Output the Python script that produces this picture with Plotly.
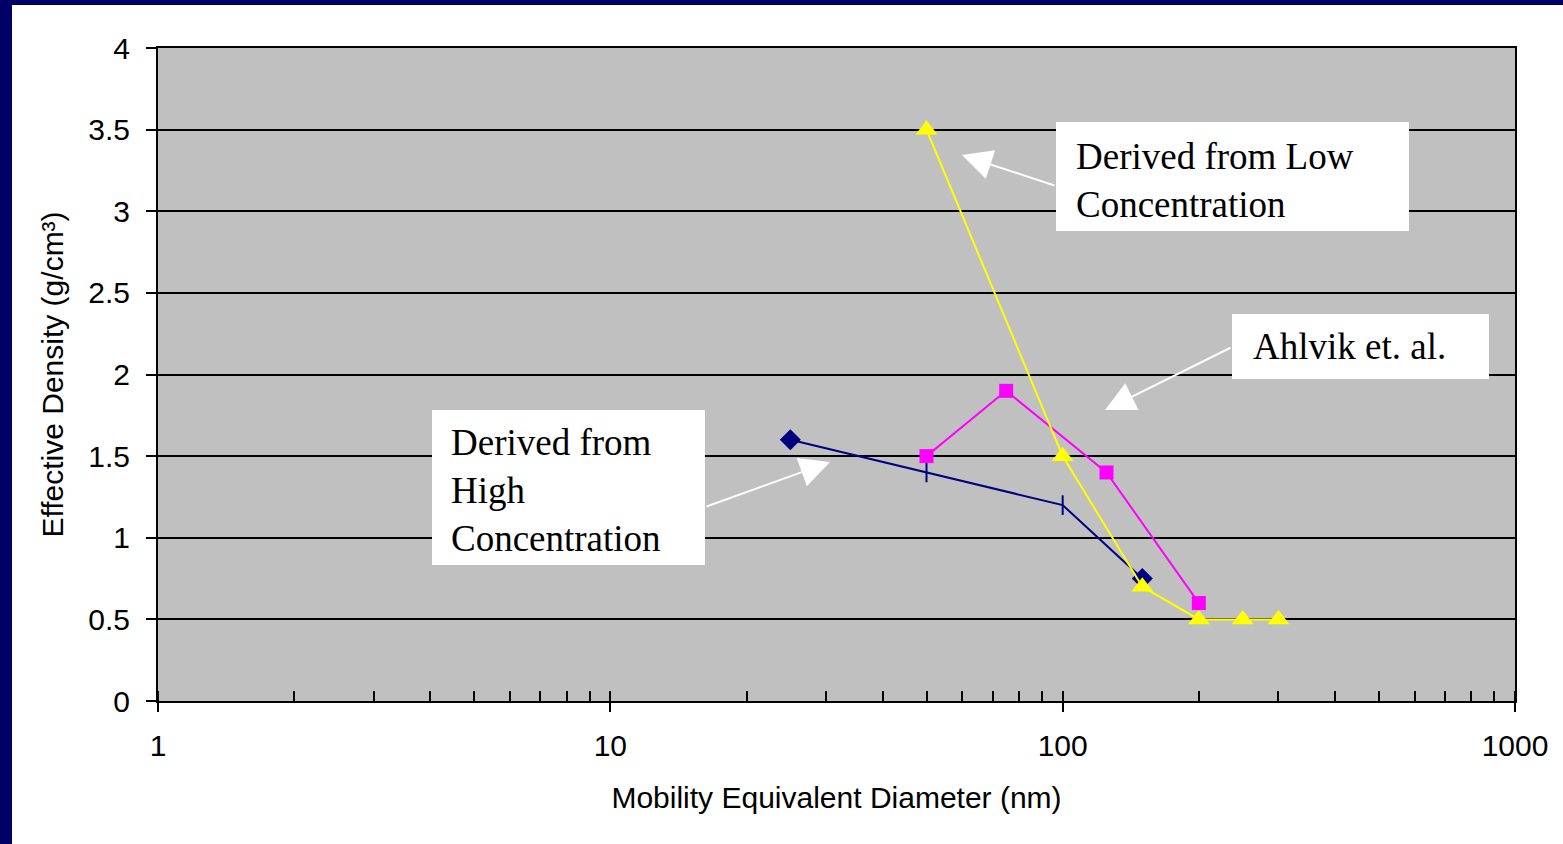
import math
import plotly.graph_objects as go

# ---- data ----
high_x = [25, 50, 100, 150]
high_y = [1.6, 1.4, 1.2, 0.75]
ahlvik_x = [50, 75, 125, 200]
ahlvik_y = [1.5, 1.9, 1.4, 0.6]
low_x = [50, 100, 150, 200, 250, 300]
low_y = [3.5, 1.5, 0.7, 0.5, 0.5, 0.5]
x_ticks = [1, 10, 100, 1000]
x_ticktext = ["1", "10", "100", "1000"]

W, H = 1563, 844
L, R, T, B = 158, 1515, 48, 701

def pxx(p):
    return (p - L) / (R - L)

def pxy(p):
    return (B - p) / (B - T)

fig = go.Figure()
fig.add_trace(go.Scatter(
    x=high_x, y=high_y, mode="lines+markers", name="High",
    line=dict(color="#000080", width=2),
    marker=dict(symbol=["diamond", "line-ns", "line-ns", "diamond"], size=[14, 14, 14, 14],
                color="#000080", opacity=1, line=dict(color="#000080", width=2)),
))
fig.add_trace(go.Scatter(
    x=ahlvik_x, y=ahlvik_y, mode="lines+markers", name="Ahlvik",
    line=dict(color="#FF00FF", width=2),
    marker=dict(symbol="square", size=14, color="#FF00FF"),
))
fig.add_trace(go.Scatter(
    x=low_x, y=low_y, mode="lines+markers", name="Low",
    line=dict(color="#FFFF00", width=2),
    marker=dict(symbol="triangle-up", size=19, color="#FFFF00"),
))

axis_font = dict(family="Liberation Sans, Arial", size=30, color="black")
fig.update_layout(
    width=W, height=H,
    margin=dict(l=L, r=W - R, t=T, b=H - B),
    paper_bgcolor="white", plot_bgcolor="#C0C0C0",
    showlegend=False,
    xaxis=dict(type="log", range=[0, 3], tickvals=x_ticks, ticktext=x_ticktext,
               ticks="outside", ticklen=9, tickwidth=2, tickcolor="black",
               showline=True, linecolor="black", linewidth=2, mirror=True,
               showgrid=False, zeroline=False, tickfont=axis_font, ticklabelstandoff=8,
               minor=dict(ticks="inside", ticklen=10, tickwidth=2, tickcolor="black",
                          dtick="D1", showgrid=False),
               title=dict(text="Mobility Equivalent Diameter (nm)", font=axis_font, standoff=26)),
    xaxis2=dict(type="log", range=[0, 3], overlaying="x", anchor="y", side="bottom",
                tickvals=x_ticks, ticks="inside", ticklen=10, tickwidth=2, tickcolor="black",
                showticklabels=False, showgrid=False, showline=False, zeroline=False),
    yaxis=dict(range=[0, 4], dtick=0.5, ticks="outside", ticklen=10, tickwidth=2,
               tickcolor="black", showline=True, linecolor="black", linewidth=2, mirror=True,
               showgrid=True, gridcolor="black", gridwidth=2, zeroline=False,
               tickfont=axis_font, ticklabelstandoff=10,
               title=dict(text="Effective Density (g/cm³)", font=axis_font, standoff=16)),
)

# white text boxes
boxes = [(1056, 122, 1409, 231), (1232, 314, 1489, 379), (432, 410, 705, 565)]
for x0, y0, x1, y1 in boxes:
    fig.add_shape(type="rect", xref="paper", yref="paper",
                  x0=pxx(x0), x1=pxx(x1), y0=pxy(y1), y1=pxy(y0),
                  fillcolor="white", line=dict(width=0), layer="above")

serif = dict(family="Liberation Serif, Times New Roman", size=37, color="black")
texts = [("Derived from Low<br>Concentration", 1074, 180),
         ("Ahlvik et. al.", 1251, 347),
         ("Derived from<br>High<br>Concentration", 449, 490)]
for t, px, py in texts:
    fig.add_annotation(text=t, xref="paper", yref="paper", x=pxx(px), y=pxy(py),
                       xanchor="left", yanchor="middle", align="left",
                       showarrow=False, font=serif)

# arrows: (tail px, head px)
def to_data(px, py):
    lx = (px - L) / (R - L) * 3
    yy = (B - py) / (B - T) * 4
    return lx, yy

arrows = [((1056, 186), (962, 155)), ((1232, 347), (1105, 410)), ((705, 507), (830, 462))]
for (tx, ty), (hx, hy) in arrows:
    ax_, ay_ = to_data(tx, ty)
    hx_, hy_ = to_data(hx, hy)
    fig.add_annotation(x=hx_, y=hy_, ax=ax_, ay=ay_, xref="x", yref="y",
                       axref="x", ayref="y", text="", showarrow=True,
                       arrowhead=2, arrowsize=3, arrowwidth=2, arrowcolor="white",
                       standoff=0, startstandoff=0)

# navy slide frame
fig.add_shape(type="rect", xref="paper", yref="paper",
              x0=pxx(0), x1=pxx(12), y0=pxy(H), y1=pxy(0),
              fillcolor="#000066", line=dict(width=0), layer="above")
fig.add_shape(type="rect", xref="paper", yref="paper",
              x0=pxx(0), x1=pxx(W), y0=pxy(5), y1=pxy(0),
              fillcolor="#000066", line=dict(width=0), layer="above")

fig.write_html("out.html", config={"displayModeBar": False},
               post_script="document.body.style.margin='0';document.body.style.overflow='hidden';")
